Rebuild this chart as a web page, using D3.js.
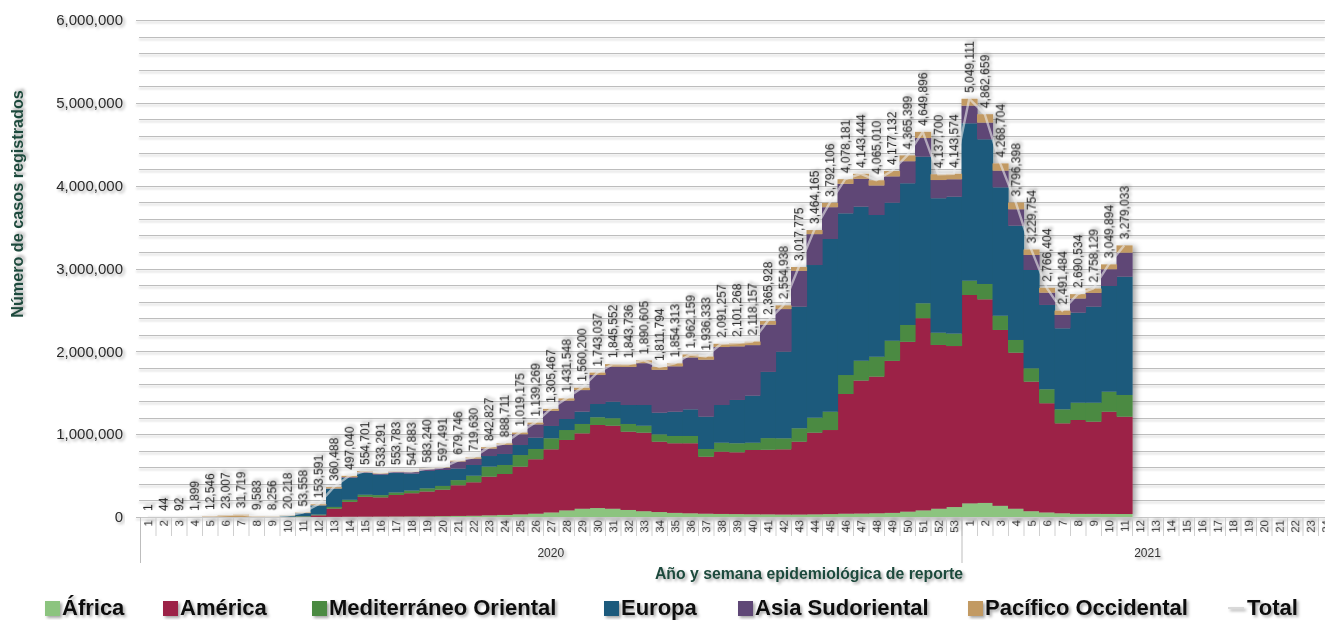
<!DOCTYPE html>
<html>
<head>
<meta charset="utf-8">
<script src="https://cdn.jsdelivr.net/npm/d3@7"></script>
<style>
  html, body { margin: 0; padding: 0; background: #ffffff; }
  svg { display: block; }
</style>
</head>
<body>
<svg id="chart" width="1325" height="620"></svg>
<script>
// Week labels for each reporting year
const weeks2020 = [1,2,3,4,5,6,7,8,9,10,11,12,13,14,15,16,17,18,19,20,21,22,23,24,25,26,27,28,29,30,31,32,33,34,35,36,37,38,39,40,41,42,43,44,45,46,47,48,49,50,51,52,53];
const weeks2021 = [1,2,3,4,5,6,7,8,9,10,11,12,13,14,15,16,17,18,19,20,21,22,23,24];
const years = ["2020", "2021"];

// Weekly cases by WHO region (2020 weeks 1-53, 2021 weeks 1-11)
const africa = [0,0,0,0,0,0,0,0,6,18,150,600,1500,3000,4000,5000,6000,7000,8000,10000,
  13000,15000,20000,25000,32000,40000,55000,80000,100000,108000,
  100000,85000,70000,60000,50000,45000,40000,37000,35000,33000,
  32000,30000,30000,32000,35000,40000,42000,45000,50000,65000,
  80000,100000,120000,
  165000,170000,135000,100000,70000,55000,45000,38000,38000,37000,36000];
const america = [0,0,0,5,6,5,5,3,40,400,2800,20000,100000,180000,240000,232000,260000,280000,300000,320000,
  370000,404000,467000,494000,576000,657000,762000,850000,910000,1003000,
  1002000,945000,948000,849000,840000,845000,688000,752000,746000,776000,
  780000,787000,879000,986000,1015000,1445000,1605000,1650000,1835000,2050000,
  2320000,1977000,1944000,
  2515000,2458000,2123000,1884000,1564000,1318000,1086000,1133000,1113000,1234000,1175000];
const mediterraneo = [0,0,0,0,0,5,4,20,600,3900,7000,9000,20000,25000,25000,27000,30000,32000,38000,45000,
  62000,80000,121000,109000,140000,124000,133000,120000,113000,93000,
  90000,93000,84000,89000,88000,88000,93000,108000,109000,88000,
  140000,133000,162000,181000,221000,229000,240000,240000,243000,203000,
  180000,148000,150000,
  173000,185000,172000,153000,161000,169000,169000,209000,229000,242000,262000];
const europa = [0,0,0,9,20,17,20,60,1100,11000,37000,110000,220000,265000,262000,247291,234783,205883,210240,192491,
  140000,129000,128000,133000,121000,137000,149000,133000,149000,160000,
  200000,229000,250000,261000,293000,322000,390000,455000,523000,568000,
  800000,1046000,1468000,1843000,2085000,1952000,1860000,1711000,1667000,1711000,
  1770000,1623000,1653000,
  1900000,1747000,1550000,1380000,1187000,1018000,978000,1087000,1159000,1276000,1428000];
const asia = [0,0,0,5,20,20,40,100,10,100,500,1500,3000,8000,10000,12000,15000,17000,22000,25000,
  85000,76000,90000,110000,130000,160000,183000,223000,260000,350000,
  423000,460000,505000,518000,548000,626000,688000,700000,647000,610000,
  570000,514000,432000,373000,384000,356000,336000,356000,317000,266000,
  225000,220000,210000,
  213000,201000,201000,198000,181000,148000,161000,171000,166000,202000,290000];
const pacifico = [1,44,92,1880,12500,22960,31650,9400,6500,4800,6108,12491,15988,16040,13701,10000,8000,6000,5000,5000,
  9746,15630,16827,17711,20175,21269,23467,25548,28200,29037,
  30552,31736,33605,34794,35313,36159,37333,39257,41268,43157,
  43928,44938,46775,49165,52106,56181,60444,63010,65132,70399,
  74896,69700,66574,
  83111,101659,87704,81398,66754,58404,52484,52534,53129,58894,88033];
const totals = [1,44,92,1899,12546,23007,31719,9583,8256,20218,53558,153591,360488,497040,554701,533291,553783,547883,583240,597491,
  679746,719630,842827,888711,1019175,1139269,1305467,1431548,1560200,1743037,
  1845552,1843736,1890605,1811794,1854313,1962159,1936333,2091257,2101268,2118157,
  2365928,2554938,3017775,3464165,3792106,4078181,4143444,4065010,4177132,4365399,
  4649896,4137700,4143574,
  5049111,4862659,4268704,3796398,3229754,2766404,2491484,2690534,2758129,3049894,3279033];

const regionNames = ["África", "América", "Mediterráneo Oriental", "Europa", "Asia Sudoriental", "Pacífico Occidental"];
const regionColors = ["#8cc47f", "#9c2346", "#4b8a42", "#1e5a7b", "#5f4676", "#c29a64"];
const regionSeries = [africa, america, mediterraneo, europa, asia, pacifico];

const svg = d3.select("#chart");
const W = 1325, H = 620;
const margin = { left: 140, top: 20, bottom: 517 };
const FONT = "Liberation Sans, Arial, sans-serif";

// category keys for every week slot
const keys = weeks2020.map(w => "2020-" + w).concat(weeks2021.map(w => "2021-" + w));
const weekLabel = weeks2020.concat(weeks2021);

const x = d3.scaleBand().domain(keys).range([margin.left, margin.left + keys.length * 15.5]).padding(0);
const y = d3.scaleLinear().domain([0, 6000000]).range([margin.bottom, margin.top]);

// filters for soft shadows
const defs = svg.append("defs");
function shadow(id, dx, dy, sd, op) {
  const f = defs.append("filter").attr("id", id)
    .attr("x", "-20%").attr("y", "-20%").attr("width", "140%").attr("height", "140%");
  f.append("feDropShadow").attr("dx", dx).attr("dy", dy).attr("stdDeviation", sd)
    .attr("flood-color", "#000").attr("flood-opacity", op);
}
shadow("txtShadow", 2, 2, 1.6, 0.35);
shadow("lineShadow", 0, 2, 0.8, 0.2);
shadow("barShadow", 3, 1, 3, 0.38);

// gridlines every 200,000
const gridVals = d3.range(0, 6000001, 200000);
svg.append("g").attr("filter", "url(#lineShadow)")
  .selectAll("line").data(gridVals).join("line")
  .attr("x1", d => d % 1000000 === 0 ? margin.left - 4 : margin.left - 1)
  .attr("x2", W)
  .attr("y1", d => Math.round(y(d)) + 0.5)
  .attr("y2", d => Math.round(y(d)) + 0.5)
  .attr("stroke", "#bdbdbd").attr("stroke-width", 1);

// y axis labels
const yAxis = d3.axisLeft(y).tickValues(d3.range(0, 6000001, 1000000))
  .tickFormat(d3.format(",")).tickSize(0).tickPadding(14);
const gy = svg.append("g").attr("transform", `translate(${margin.left - 3},0)`).call(yAxis);
gy.select(".domain").remove();
gy.selectAll("text")
  .attr("font-family", FONT)
  .attr("font-size", 15).attr("fill", "#2b2b2b")
  .attr("filter", "url(#txtShadow)");

// stacked weekly bars
const rows = totals.map((t, i) => {
  const r = { key: keys[i] };
  regionNames.forEach((n, j) => { r[n] = regionSeries[j][i]; });
  return r;
});
const stack = d3.stack().keys(regionNames)(rows);

const barsG = svg.append("g").attr("filter", "url(#barShadow)");
barsG.selectAll("g").data(stack).join("g")
  .attr("fill", (d, i) => regionColors[i])
  .selectAll("rect").data(d => d).join("rect")
  .attr("x", d => x(d.data.key))
  .attr("width", x.bandwidth() + 0.6)
  .attr("y", d => y(d[1]))
  .attr("height", d => Math.max(0, y(d[0]) - y(d[1])));

// total line through the top of each week
const totalLine = d3.line()
  .x((d, i) => x(keys[i]) + x.bandwidth() / 2)
  .y(d => y(d));
svg.append("path").datum(totals)
  .attr("d", totalLine)
  .attr("fill", "none")
  .attr("stroke", "rgba(235,235,235,0.6)")
  .attr("stroke-width", 2.4);

// x axis: separators between weeks
const sepG = svg.append("g");
const bounds = d3.range(keys.length + 1).map(i => margin.left + i * x.bandwidth());
sepG.selectAll("line").data(bounds).join("line")
  .attr("x1", d => d + 0.5).attr("x2", d => d + 0.5)
  .attr("y1", margin.bottom).attr("y2", margin.bottom + 19)
  .attr("stroke", "#cfcfcf").attr("stroke-width", 1);
svg.append("line")
  .attr("x1", margin.left).attr("x2", W)
  .attr("y1", margin.bottom + 0.5).attr("y2", margin.bottom + 0.5)
  .attr("stroke", "#c8c8c8");

// year group dividers
const yearStart = [margin.left, margin.left + weeks2020.length * x.bandwidth()];
svg.selectAll(".yearDiv").data(yearStart).join("line")
  .attr("class", "yearDiv")
  .attr("x1", d => d + 0.5).attr("x2", d => d + 0.5)
  .attr("y1", margin.bottom).attr("y2", 563)
  .attr("stroke", "#bdbdbd");

// week numbers
svg.append("g").selectAll("text").data(keys).join("text")
  .attr("transform", (d, i) => `translate(${x(d) + x.bandwidth() / 2 + 4.5},${margin.bottom + 3}) rotate(-90)`)
  .attr("text-anchor", "end")
  .attr("font-family", FONT)
  .attr("font-size", 11.5).attr("fill", "#333")
  .attr("filter", "url(#txtShadow)")
  .text((d, i) => weekLabel[i]);

// year labels
const yearSpan = [weeks2020.length, weeks2021.length];
svg.append("g").selectAll("text").data(years).join("text")
  .attr("x", (d, i) => yearStart[i] + yearSpan[i] * x.bandwidth() / 2)
  .attr("y", 557)
  .attr("text-anchor", "middle")
  .attr("font-family", FONT)
  .attr("font-size", 12).attr("fill", "#333")
  .attr("filter", "url(#txtShadow)")
  .text(d => d);

// total labels above each week
svg.append("g").selectAll("text").data(totals).join("text")
  .attr("transform", (d, i) => `translate(${x(keys[i]) + x.bandwidth() / 2 + 4.5},${y(d) - 6}) rotate(-90)`)
  .attr("text-anchor", "start")
  .attr("font-family", FONT)
  .attr("font-size", 12).attr("fill", "#222")
  .attr("filter", "url(#txtShadow)")
  .text(d => d3.format(",")(d));

// axis titles
svg.append("text")
  .attr("transform", "translate(23,204) rotate(-90)")
  .attr("text-anchor", "middle")
  .attr("font-family", FONT)
  .attr("font-weight", "bold").attr("font-size", 16.2)
  .attr("fill", "#1f4a3c")
  .attr("filter", "url(#txtShadow)")
  .text("Número de casos registrados");

svg.append("text")
  .attr("x", 809).attr("y", 579)
  .attr("text-anchor", "middle")
  .attr("font-family", FONT)
  .attr("font-weight", "bold").attr("font-size", 15.8)
  .attr("fill", "#1f4a3c")
  .attr("filter", "url(#txtShadow)")
  .text("Año y semana epidemiológica de reporte");

// legend
const legendX = [45, 163, 312, 604, 738, 968];
const legend = svg.append("g").attr("filter", "url(#txtShadow)");
regionNames.forEach((n, i) => {
  legend.append("rect").attr("x", legendX[i]).attr("y", 601).attr("width", 15).attr("height", 15)
    .attr("fill", regionColors[i]);
  legend.append("text").attr("x", legendX[i] + 17).attr("y", 615)
    .attr("font-family", FONT)
    .attr("font-weight", "bold").attr("font-size", 22).attr("fill", "#111")
    .text(n);
});
legend.append("line").attr("x1", 1228).attr("x2", 1244).attr("y1", 608).attr("y2", 608)
  .attr("stroke", "#d9d9d9").attr("stroke-width", 2);
legend.append("text").attr("x", 1247).attr("y", 615)
  .attr("font-family", FONT)
  .attr("font-weight", "bold").attr("font-size", 22).attr("fill", "#111")
  .text("Total");
</script>
</body>
</html>
